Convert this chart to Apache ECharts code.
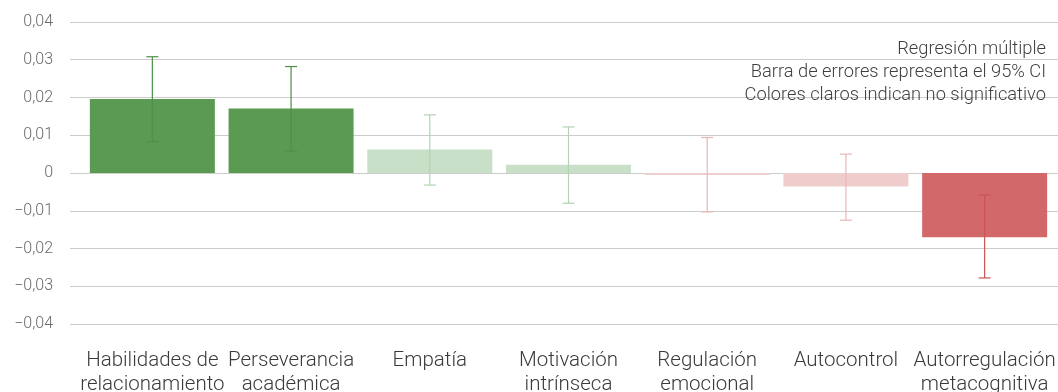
<!DOCTYPE html>
<html>
<head>
<meta charset="utf-8">
<script src="https://cdn.jsdelivr.net/npm/echarts@6/dist/echarts.min.js"></script>
<style>
  html, body { margin: 0; padding: 0; background: #fff; }
  #chart { width: 1058px; height: 392px; }
</style>
</head>
<body>
<div id="chart"></div>
<script>
// Regression coefficients with 95% confidence intervals
const categories = [
  'Habilidades de\nrelacionamiento',
  'Perseverancia\nacadémica',
  'Empatía',
  'Motivación\nintrínseca',
  'Regulación\nemocional',
  'Autocontrol',
  'Autorregulación\nmetacognitiva'
];
const estimates = [0.0196, 0.0171, 0.0062, 0.0022, -0.0005, -0.0036, -0.0170];
const ciLow     = [0.0083, 0.0058, -0.0032, -0.0080, -0.0103, -0.0125, -0.0278];
const ciHigh    = [0.0308, 0.0282, 0.0154, 0.0122, 0.0094, 0.0050, -0.0058];
const significant = [true, true, false, false, false, false, true];
const yTicks = { min: -0.04, max: 0.04, step: 0.01 };
const noteLines = [
  'Regresión múltiple',
  'Barra de errores representa el 95% CI',
  'Colores claros indican no significativo'
];

const FONT = 'Roboto';
const palette = {
  posStrong: '#5a9a52', posLight: '#c8dfc8',
  negStrong: '#d2686a', negLight: '#f0cdcd',
  posStrongErr: '#4f8f47', posLightErr: '#b3d3b1',
  negStrongErr: '#c95457', negLightErr: '#eab5b7'
};
function barColor(i) {
  const pos = estimates[i] >= 0;
  if (pos) return significant[i] ? palette.posStrong : palette.posLight;
  return significant[i] ? palette.negStrong : palette.negLight;
}
function errColor(i) {
  const pos = estimates[i] >= 0;
  if (pos) return significant[i] ? palette.posStrongErr : palette.posLightErr;
  return significant[i] ? palette.negStrongErr : palette.negLightErr;
}

function fmt(v) {
  if (Math.abs(v) < 1e-9) return '0';
  const s = Math.abs(v).toFixed(2).replace('.', ',');
  return (v < 0 ? '\u2212' : '') + s;
}

const chart = echarts.init(document.getElementById('chart'), null, { renderer: 'canvas' });

const option = {
  animation: false,
  textStyle: { fontFamily: FONT },
  grid: [
    // background grid carrying the value ticks and split lines
    { left: 70, right: 0, top: 22, bottom: 68, outerBoundsMode: 'none', containLabel: false },
    // grid holding the bars
    { left: 83, right: 4, top: 22, bottom: 68, outerBoundsMode: 'none', containLabel: false }
  ],
  xAxis: [
    { gridIndex: 0, type: 'category', data: categories, show: false },
    {
      gridIndex: 1, type: 'category', data: categories,
      axisLine: { show: false }, axisTick: { show: false },
      axisLabel: {
        interval: 0, margin: 25, color: '#3a3a3a', fontSize: 20.5,
        fontFamily: FONT, fontWeight: 300, lineHeight: 24
      }
    }
  ],
  yAxis: [
    {
      gridIndex: 0, type: 'value',
      min: yTicks.min, max: yTicks.max, interval: yTicks.step,
      axisLine: { show: false }, axisTick: { show: false },
      axisLabel: {
        margin: 17, color: '#6a6a6a', fontSize: 16, fontFamily: FONT, fontWeight: 300,
        formatter: fmt
      },
      splitLine: { lineStyle: { color: '#cccccc', width: 1 } }
    },
    {
      gridIndex: 1, type: 'value',
      min: yTicks.min, max: yTicks.max, interval: yTicks.step,
      show: false, splitLine: { show: false }
    }
  ],
  series: [
    {
      type: 'bar', xAxisIndex: 1, yAxisIndex: 1, barWidth: 125,
      data: estimates.map((v, i) => ({ value: v, itemStyle: { color: barColor(i) } })),
      z: 2
    },
    {
      type: 'custom', xAxisIndex: 1, yAxisIndex: 1, z: 3,
      data: categories.map((c, i) => [i, ciLow[i], ciHigh[i]]),
      renderItem: function (params, api) {
        const i = api.value(0);
        const lo = api.coord([i, api.value(1)]);
        const hi = api.coord([i, api.value(2)]);
        const half = 6;
        const color = errColor(i);
        const style = { stroke: color, lineWidth: 1.2, fill: null };
        return {
          type: 'group',
          children: [
            { type: 'line', shape: { x1: lo[0], y1: lo[1], x2: hi[0], y2: hi[1] }, style },
            { type: 'line', shape: { x1: hi[0] - half, y1: hi[1], x2: hi[0] + half, y2: hi[1] }, style },
            { type: 'line', shape: { x1: lo[0] - half, y1: lo[1], x2: lo[0] + half, y2: lo[1] }, style }
          ]
        };
      }
    }
  ],
  graphic: noteLines.map((t, k) => ({
    type: 'text', right: 12, top: 40 + k * 23, z: 10,
    style: {
      text: t, fill: '#3f3f3f', fontSize: 18.3, fontFamily: FONT, fontWeight: 300,
      textAlign: 'right'
    }
  }))
};

chart.setOption(option);
</script>
</body>
</html>
